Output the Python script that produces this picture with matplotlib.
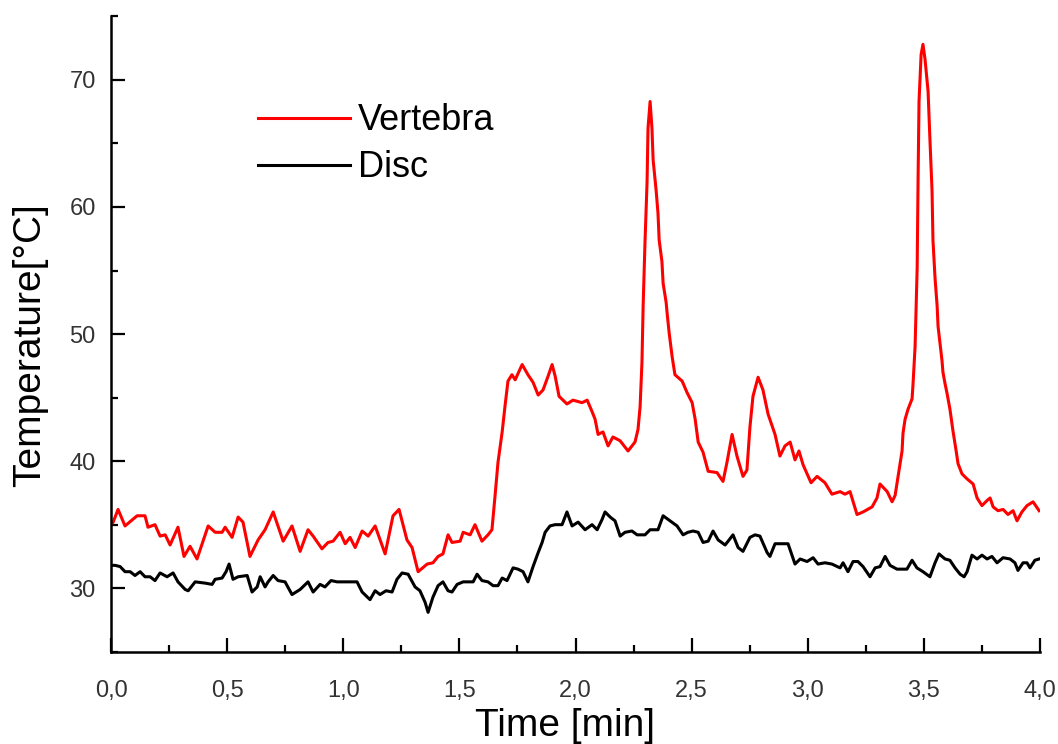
import matplotlib
matplotlib.use("Agg")
from matplotlib import pyplot as plt
from matplotlib.ticker import MultipleLocator, FuncFormatter

plt.rcParams['font.family'] = ['Liberation Sans', 'DejaVu Sans']

# Vertebra trace (time in min, temperature in degC)
vert_t = [0.000, 0.009, 0.030, 0.060, 0.112, 0.146, 0.159, 0.189, 0.211, 0.233,
          0.254, 0.288, 0.314, 0.340, 0.370, 0.418, 0.448, 0.478, 0.491, 0.521,
          0.547, 0.568, 0.598, 0.633, 0.663, 0.698, 0.741, 0.779, 0.814, 0.848,
          0.870, 0.908, 0.934, 0.956, 0.986, 1.008, 1.029, 1.051, 1.081, 1.107,
          1.137, 1.180, 1.214, 1.240, 1.274, 1.296, 1.322, 1.361, 1.386, 1.408,
          1.429, 1.451, 1.468, 1.503, 1.516, 1.546, 1.567, 1.597, 1.623, 1.640,
          1.653, 1.666, 1.684, 1.696, 1.709, 1.726, 1.740, 1.770, 1.795, 1.817,
          1.839, 1.860, 1.882, 1.899, 1.912, 1.929, 1.963, 1.989, 2.028, 2.050,
          2.071, 2.084, 2.097, 2.118, 2.140, 2.161, 2.192, 2.226, 2.256, 2.269,
          2.278, 2.286, 2.291, 2.299, 2.308, 2.312, 2.321, 2.329, 2.334, 2.347,
          2.355, 2.360, 2.372, 2.377, 2.390, 2.394, 2.403, 2.416, 2.428, 2.459,
          2.480, 2.502, 2.515, 2.528, 2.549, 2.571, 2.609, 2.635, 2.652, 2.674,
          2.695, 2.721, 2.738, 2.751, 2.764, 2.786, 2.807, 2.829, 2.859, 2.880,
          2.902, 2.924, 2.945, 2.962, 2.980, 3.014, 3.040, 3.074, 3.104, 3.139,
          3.160, 3.182, 3.212, 3.238, 3.277, 3.298, 3.311, 3.342, 3.363, 3.376,
          3.389, 3.406, 3.410, 3.419, 3.432, 3.449, 3.453, 3.462, 3.471, 3.475,
          3.479, 3.488, 3.496, 3.505, 3.518, 3.526, 3.535, 3.539, 3.548, 3.557,
          3.561, 3.569, 3.578, 3.582, 3.591, 3.600, 3.612, 3.625, 3.638, 3.647,
          3.664, 3.686, 3.712, 3.729, 3.750, 3.772, 3.785, 3.798, 3.819, 3.841,
          3.862, 3.884, 3.901, 3.922, 3.944, 3.970, 3.996]
vert_temp = [35.0, 35.2, 36.2, 34.9, 35.7, 35.7, 34.8, 35.0, 34.1, 34.2,
             33.4, 34.8, 32.5, 33.3, 32.3, 34.9, 34.4, 34.4, 34.8, 34.0,
             35.6, 35.2, 32.5, 33.8, 34.6, 36.0, 33.7, 34.9, 32.9, 34.6,
             34.1, 33.1, 33.6, 33.7, 34.4, 33.5, 34.0, 33.2, 34.5, 34.1,
             34.9, 32.7, 35.7, 36.2, 33.8, 33.2, 31.3, 31.9, 32.0, 32.5,
             32.7, 34.2, 33.6, 33.7, 34.4, 34.2, 35.0, 33.7, 34.2, 34.6,
             37.2, 39.9, 42.3, 44.3, 46.3, 46.8, 46.4, 47.6, 46.8, 46.2,
             45.2, 45.6, 46.7, 47.6, 46.7, 45.1, 44.5, 44.8, 44.6, 44.8,
             43.9, 43.3, 42.1, 42.3, 41.2, 41.9, 41.6, 40.8, 41.5, 42.5,
             44.3, 47.8, 52.2, 57.2, 62.0, 66.2, 68.3, 66.2, 63.7, 61.3,
             59.5, 57.4, 55.7, 54.0, 52.5, 51.7, 50.1, 48.2, 46.8, 46.3,
             45.4, 44.6, 43.3, 41.5, 40.7, 39.2, 39.1, 38.4, 39.9, 42.1,
             40.4, 38.8, 39.3, 42.7, 45.1, 46.6, 45.6, 43.7, 42.1, 40.4,
             41.2, 41.5, 40.1, 40.8, 39.7, 38.3, 38.8, 38.3, 37.4, 37.6,
             37.4, 37.6, 35.8, 36.0, 36.4, 37.1, 38.2, 37.6, 36.8, 37.3,
             38.8, 40.8, 42.2, 43.3, 44.1, 44.9, 46.0, 49.0, 55.2, 62.3,
             68.3, 72.0, 72.8, 71.6, 69.1, 65.3, 61.3, 57.4, 54.4, 52.2,
             50.6, 49.3, 47.9, 47.0, 46.1, 45.3, 44.1, 42.4, 40.9, 39.8,
             39.0, 38.6, 38.2, 37.1, 36.5, 36.9, 37.1, 36.4, 36.1, 36.2,
             35.8, 36.1, 35.3, 36.0, 36.5, 36.8, 36.1]

# Disc trace
disc_t = [0.000, 0.017, 0.039, 0.060, 0.082, 0.103, 0.125, 0.146, 0.168, 0.189,
          0.211, 0.241, 0.267, 0.288, 0.319, 0.332, 0.362, 0.405, 0.435, 0.448,
          0.478, 0.495, 0.508, 0.525, 0.547, 0.586, 0.607, 0.629, 0.642, 0.663,
          0.676, 0.698, 0.719, 0.749, 0.779, 0.814, 0.848, 0.870, 0.900, 0.921,
          0.947, 0.973, 1.029, 1.059, 1.081, 1.115, 1.137, 1.158, 1.184, 1.210,
          1.231, 1.253, 1.279, 1.309, 1.330, 1.352, 1.365, 1.386, 1.408, 1.429,
          1.451, 1.468, 1.490, 1.516, 1.559, 1.576, 1.597, 1.623, 1.645, 1.666,
          1.684, 1.705, 1.731, 1.752, 1.774, 1.795, 1.817, 1.839, 1.856, 1.869,
          1.890, 1.912, 1.942, 1.963, 1.985, 2.011, 2.041, 2.071, 2.093, 2.114,
          2.127, 2.149, 2.170, 2.192, 2.213, 2.243, 2.265, 2.299, 2.321, 2.355,
          2.377, 2.407, 2.437, 2.463, 2.484, 2.506, 2.528, 2.549, 2.571, 2.592,
          2.614, 2.644, 2.657, 2.678, 2.700, 2.721, 2.751, 2.773, 2.794, 2.825,
          2.837, 2.859, 2.889, 2.915, 2.945, 2.967, 2.997, 3.023, 3.044, 3.074,
          3.104, 3.139, 3.152, 3.173, 3.195, 3.216, 3.238, 3.268, 3.290, 3.311,
          3.333, 3.354, 3.384, 3.427, 3.449, 3.470, 3.496, 3.526, 3.548, 3.565,
          3.591, 3.612, 3.634, 3.656, 3.673, 3.686, 3.707, 3.729, 3.750, 3.772,
          3.793, 3.815, 3.841, 3.871, 3.892, 3.905, 3.927, 3.944, 3.957, 3.978,
          3.996]
disc_temp = [31.8, 31.8, 31.7, 31.3, 31.3, 31.0, 31.3, 30.9, 30.9, 30.6,
             31.2, 30.9, 31.2, 30.5, 29.9, 29.8, 30.5, 30.4, 30.3, 30.7,
             30.8, 31.3, 31.9, 30.7, 30.9, 31.0, 29.7, 30.1, 30.9, 30.1,
             30.5, 31.0, 30.6, 30.5, 29.5, 29.9, 30.5, 29.7, 30.3, 30.1,
             30.6, 30.5, 30.5, 30.5, 29.7, 29.1, 29.8, 29.5, 29.8, 29.7,
             30.7, 31.2, 31.1, 30.1, 29.8, 28.9, 28.1, 29.3, 30.2, 30.5,
             29.8, 29.7, 30.3, 30.5, 30.5, 31.1, 30.6, 30.5, 30.2, 30.2,
             30.8, 30.6, 31.6, 31.5, 31.3, 30.5, 31.7, 32.8, 33.6, 34.4,
             34.9, 35.0, 35.0, 36.0, 34.9, 35.2, 34.6, 35.0, 34.6, 35.4,
             36.0, 35.6, 35.3, 34.1, 34.4, 34.5, 34.2, 34.2, 34.6, 34.6,
             35.7, 35.3, 34.9, 34.2, 34.4, 34.5, 34.4, 33.6, 33.7, 34.5,
             33.8, 33.4, 33.7, 34.2, 33.2, 32.9, 34.0, 34.2, 34.1, 32.8,
             32.5, 33.5, 33.5, 33.5, 31.9, 32.3, 32.1, 32.4, 31.9, 32.0,
             31.9, 31.6, 32.0, 31.3, 32.1, 32.1, 31.7, 30.9, 31.6, 31.7,
             32.5, 31.8, 31.5, 31.5, 32.2, 31.6, 31.3, 30.9, 32.0, 32.7,
             32.3, 32.2, 31.6, 31.1, 30.9, 31.3, 32.6, 32.3, 32.6, 32.3,
             32.5, 32.0, 32.4, 32.3, 32.0, 31.4, 32.0, 32.0, 31.6, 32.2,
             32.3]

fig = plt.figure(figsize=(10.58, 7.44), dpi=100)
ax = fig.add_axes([0.105, 0.124, 0.878, 0.854])

ax.plot(vert_t, vert_temp, color='#ff0000', linewidth=2.2, label='Vertebra')
ax.plot(disc_t, disc_temp, color='black', linewidth=2.2, label='Disc')

ax.set_xlim(0, 4.0)
ax.set_ylim(25, 75)
ax.xaxis.set_major_locator(MultipleLocator(0.5))
ax.xaxis.set_minor_locator(MultipleLocator(0.25))
ax.yaxis.set_major_locator(MultipleLocator(10))
ax.yaxis.set_minor_locator(MultipleLocator(5))
ax.xaxis.set_major_formatter(FuncFormatter(lambda v, p: '{:.1f}'.format(v).replace('.', ',')))
ax.yaxis.set_major_formatter(FuncFormatter(lambda v, p: '{:d}'.format(int(round(v)))))

for s in ['top', 'right']:
    ax.spines[s].set_visible(False)
for s in ['left', 'bottom']:
    ax.spines[s].set_linewidth(1.8)

ax.tick_params(which='major', direction='in', length=10, width=1.6,
               labelsize=17, labelcolor='#333333')
ax.tick_params(which='minor', direction='in', length=5, width=1.6)
ax.tick_params(axis='x', which='major', pad=20)
ax.tick_params(axis='y', which='major', pad=11)

ax.set_xlabel('Time [min]', fontsize=28)
ax.set_ylabel('Temperature[°C]', fontsize=28)
ax.xaxis.set_label_coords(0.489, -0.088)
ax.yaxis.set_label_coords(-0.068, 0.483)

ax.legend(loc='upper left', bbox_to_anchor=(0.158, 0.863), frameon=False,
          fontsize=26, handlelength=2.55, handletextpad=0.22, labelspacing=0.33,
          borderpad=0, borderaxespad=0)

fig.savefig('out.png', dpi=100)
